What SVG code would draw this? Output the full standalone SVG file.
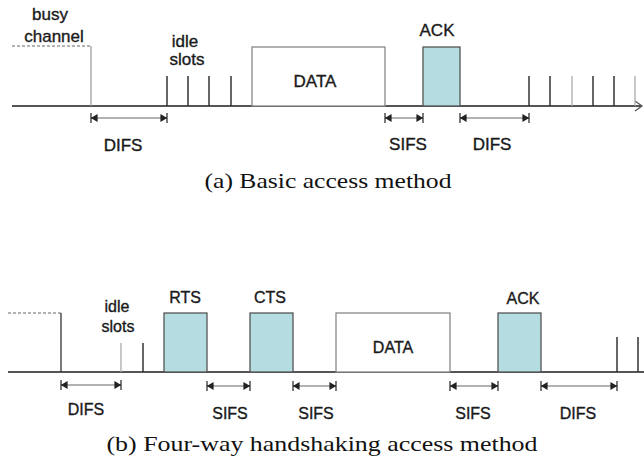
<svg xmlns="http://www.w3.org/2000/svg" width="644" height="465" viewBox="0 0 644 465">
<defs>
<marker id="aL" viewBox="0 0 10 12" refX="1" refY="6" markerWidth="10" markerHeight="12" markerUnits="userSpaceOnUse" orient="auto">
<path d="M1,1 V11 M2,6 L7,3 V9 Z" fill="#222" stroke="#222" stroke-width="1.2"/>
</marker>
<marker id="aR" viewBox="0 0 10 12" refX="9" refY="6" markerWidth="10" markerHeight="12" markerUnits="userSpaceOnUse" orient="auto">
<path d="M9,1 V11 M8,6 L3,3 V9 Z" fill="#222" stroke="#222" stroke-width="1.2"/>
</marker>
<style>
.lbl{font-family:"Liberation Sans",Arial,sans-serif;fill:#1a1a1a;stroke:#1a1a1a;stroke-width:0.35;text-anchor:middle}
.a{font-size:17px}
.b{font-size:16px}
.cap{font-family:"Liberation Serif","Times New Roman",serif;font-size:21px;fill:#111;text-anchor:middle}
.axis{stroke:#555;stroke-width:2;fill:none}
.tick{stroke:#333;stroke-width:1.5}
.ltick{stroke:#aaa;stroke-width:1.3}
.dash{stroke:#666;stroke-width:1;stroke-dasharray:3,2;fill:none}
.box{fill:#fff;stroke:#888;stroke-width:1.3}
.fbox{fill:#b5dde1;stroke:#555;stroke-width:1.3}
.dim{stroke:#666;stroke-width:1.2;marker-start:url(#aL);marker-end:url(#aR)}
</style>
</defs>

<!-- (a) Basic access method -->
<g id="a-axis">
<line class="axis" x1="12" y1="106" x2="641" y2="106"/>
<path d="M635,101 L642,106 L635,111" fill="none" stroke="#555" stroke-width="1.3"/>
</g>
<g id="a-busy">
<polyline class="dash" points="12,46 91,46"/>
<line x1="91" y1="46" x2="91" y2="106" stroke="#999" stroke-width="1.2"/>
<text class="lbl a" x="50" y="20">busy</text>
<text class="lbl a" x="54" y="42">channel</text>
</g>
<g id="a-idle">
<line class="tick" x1="167" y1="76" x2="167" y2="106"/>
<line class="tick" x1="188" y1="76" x2="188" y2="106"/>
<line class="tick" x1="209" y1="76" x2="209" y2="106"/>
<line class="tick" x1="231" y1="76" x2="231" y2="106"/>
<text class="lbl a" x="185" y="47">idle</text>
<text class="lbl a" x="187" y="65">slots</text>
</g>
<g id="a-data">
<rect class="box" x="252" y="47" width="133" height="59"/>
<text class="lbl a" x="315" y="87">DATA</text>
</g>
<g id="a-ack">
<rect class="fbox" x="423" y="47" width="37" height="59"/>
<text class="lbl a" x="437" y="36">ACK</text>
</g>
<g id="a-slots2">
<line class="tick" x1="529" y1="76" x2="529" y2="106"/>
<line class="tick" x1="550" y1="76" x2="550" y2="106"/>
<line class="ltick" x1="572" y1="76" x2="572" y2="106"/>
<line class="tick" x1="593" y1="76" x2="593" y2="106"/>
<line class="tick" x1="614" y1="76" x2="614" y2="106"/>
<line class="ltick" x1="635" y1="76" x2="635" y2="106"/>
</g>
<g id="a-connectors">
<line class="dim" x1="91" y1="118" x2="167" y2="118"/>
<line class="dim" x1="385" y1="118" x2="423" y2="118"/>
<line class="dim" x1="460" y1="118" x2="529" y2="118"/>
</g>
<g id="a-dimlabels">
<text class="lbl a" x="123" y="151">DIFS</text>
<text class="lbl a" x="408" y="150">SIFS</text>
<text class="lbl a" x="492" y="150">DIFS</text>
</g>
<text class="cap" x="328" y="188" textLength="247" lengthAdjust="spacingAndGlyphs">(a) Basic access method</text>

<!-- (b) Four-way handshaking -->
<g id="b-axis">
<line class="axis" x1="8" y1="372" x2="644" y2="372"/>
</g>
<g id="b-busy">
<polyline class="dash" points="8,313 61,313"/>
<line x1="61" y1="313" x2="61" y2="372" stroke="#333" stroke-width="1.3"/>
</g>
<g id="b-idle">
<line class="ltick" x1="121" y1="343" x2="121" y2="372"/>
<line class="tick" x1="143" y1="343" x2="143" y2="372"/>
<text class="lbl b" x="117" y="312">idle</text>
<text class="lbl b" x="118" y="332">slots</text>
</g>
<g id="b-rts">
<rect class="fbox" x="164" y="313" width="43" height="59"/>
<text class="lbl b" x="185" y="303">RTS</text>
</g>
<g id="b-cts">
<rect class="fbox" x="250" y="313" width="43" height="59"/>
<text class="lbl b" x="270" y="303">CTS</text>
</g>
<g id="b-data">
<rect class="box" x="336" y="313" width="114" height="59"/>
<text class="lbl b" x="393" y="353">DATA</text>
</g>
<g id="b-ack">
<rect class="fbox" x="498" y="313" width="43" height="59"/>
<text class="lbl b" x="523" y="304">ACK</text>
</g>
<g id="b-slots2">
<line class="tick" x1="617" y1="337" x2="617" y2="372"/>
<line class="tick" x1="638" y1="337" x2="638" y2="372"/>
</g>
<g id="b-connectors">
<line class="dim" x1="61" y1="385" x2="121" y2="385"/>
<line class="dim" x1="207" y1="386" x2="250" y2="386"/>
<line class="dim" x1="293" y1="386" x2="336" y2="386"/>
<line class="dim" x1="450" y1="386" x2="498" y2="386"/>
<line class="dim" x1="541" y1="386" x2="617" y2="386"/>
</g>
<g id="b-dimlabels">
<text class="lbl b" x="86" y="415">DIFS</text>
<text class="lbl b" x="230" y="419">SIFS</text>
<text class="lbl b" x="316" y="419">SIFS</text>
<text class="lbl b" x="473" y="419">SIFS</text>
<text class="lbl b" x="578" y="419">DIFS</text>
</g>
<text class="cap" x="322" y="451" textLength="431" lengthAdjust="spacingAndGlyphs">(b) Four-way handshaking access method</text>
</svg>
